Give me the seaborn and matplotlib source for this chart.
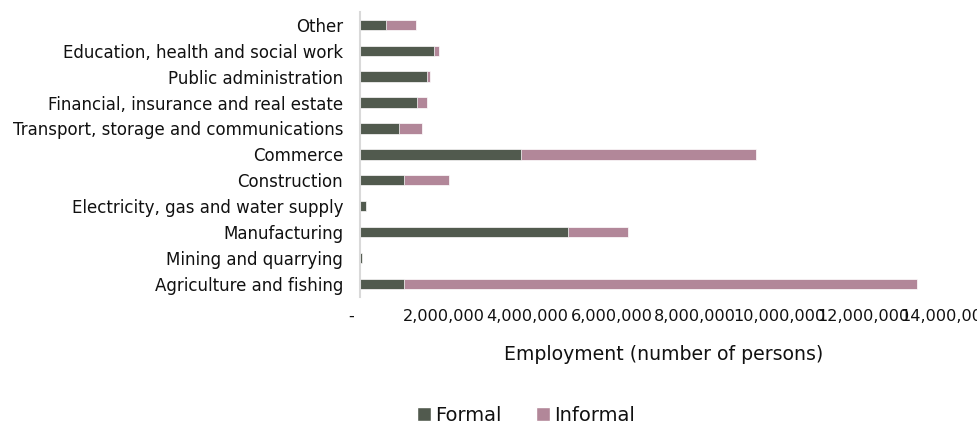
import matplotlib
matplotlib.use("Agg")
import matplotlib.pyplot as plt
import matplotlib.ticker as mticker
from matplotlib.patches import Patch
import seaborn as sns
import pandas as pd

# sectors, listed top to bottom as in the chart
sectors = [
    "Other",
    "Education, health and social work",
    "Public administration",
    "Financial, insurance and real estate",
    "Transport, storage and communications",
    "Commerce",
    "Construction",
    "Electricity, gas and water supply",
    "Manufacturing",
    "Mining and quarrying",
    "Agriculture and fishing",
]
formal = [620000, 1760000, 1610000, 1360000, 940000, 3840000,
          1050000, 140000, 4960000, 40000, 1050000]
informal = [710000, 120000, 60000, 240000, 550000, 5620000,
            1070000, 0, 1430000, 0, 12250000]

x_ticks = [0, 2000000, 4000000, 6000000, 8000000, 10000000, 12000000, 14000000]

formal_color = "#515a4e"
informal_color = "#b28799"
text_color = "#111111"

df = pd.DataFrame({"Sector": sectors, "Formal": formal, "Informal": informal})
df["Total"] = df["Formal"] + df["Informal"]

sns.set_style("white")
plt.rcParams["font.family"] = ["DejaVu Sans"]
plt.rcParams["font.size"] = 10

fig = plt.figure(figsize=(9.78, 4.23), dpi=100)
ax = fig.add_axes([0.368, 0.298, 0.600, 0.674])

sns.barplot(data=df, y="Sector", x="Total", order=sectors, color=informal_color,
            width=0.4, saturation=1, edgecolor="white", linewidth=0.5, ax=ax)
sns.barplot(data=df, y="Sector", x="Formal", order=sectors, color=formal_color,
            width=0.4, saturation=1, edgecolor="white", linewidth=0.5, ax=ax)

ax.set_xlim(0, 14000000)
ax.set_ylim(10.5, -0.5)
ax.set_xticks(x_ticks)
ax.xaxis.set_major_formatter(
    mticker.FuncFormatter(lambda v, p: "-   " if v == 0 else f"{v:,.0f}"))
ax.tick_params(axis="x", length=0, pad=9, labelsize=11.6, labelcolor=text_color)
ax.tick_params(axis="y", length=0, pad=12, labelsize=12, labelcolor=text_color)
ax.set_ylabel("")
ax.set_xlabel("Employment (number of persons)", fontsize=13.6, labelpad=15,
              color=text_color)
ax.xaxis.label.set_x(0.517)

for s in ["top", "right", "bottom"]:
    ax.spines[s].set_visible(False)
ax.spines["left"].set_color("#d9d9d9")
ax.spines["left"].set_linewidth(1.5)

handles = [Patch(facecolor=formal_color, label="Formal"),
           Patch(facecolor=informal_color, label="Informal")]
fig.legend(handles=handles, loc="center", bbox_to_anchor=(0.538, 0.018),
           ncol=2, frameon=False, fontsize=14, handlelength=0.7,
           handleheight=0.7, handletextpad=0.2, columnspacing=1.8,
           labelcolor=text_color, borderpad=0)

fig.savefig("out.png", dpi=100)
